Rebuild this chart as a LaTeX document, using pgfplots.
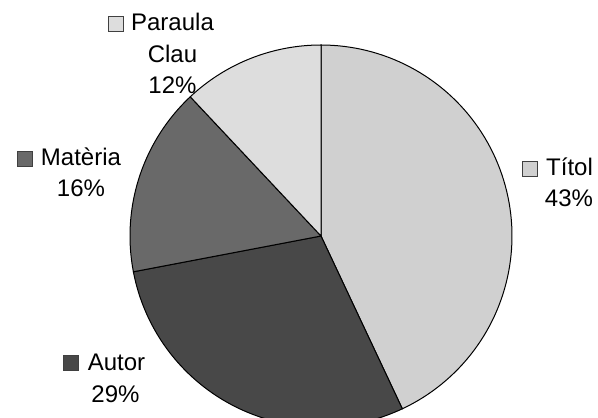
\documentclass[border=0pt]{standalone}
\usepackage{fontspec}
\setmainfont{Liberation Sans}
\usepackage{pgfplots}
\pgfplotsset{compat=1.18}

\definecolor{titol}{RGB}{208,208,208}
\definecolor{autor}{RGB}{72,72,72}
\definecolor{materia}{RGB}{105,105,105}
\definecolor{paraula}{RGB}{221,221,221}

% shares in percent, clockwise from 12 o'clock
\def\pTitol{43}
\def\pAutor{29}
\def\pMateria{16}
\def\pParaula{12}

\begin{document}
\begin{tikzpicture}
\useasboundingbox (0,0) rectangle (299pt,208.5pt);
\begin{axis}[
  at={(0,0)}, anchor=south west,
  width=299pt, height=208.5pt, scale only axis,
  xmin=0, xmax=598, ymin=0, ymax=417,
  hide axis, clip mode=individual,
  every axis plot/.append style={draw=black, line width=0.5pt, samples=90, no markers},
  font=\fontsize{12}{14}\selectfont,
]
\pgfmathsetmacro{\aA}{90}
\pgfmathsetmacro{\aB}{\aA-3.6*\pTitol}
\pgfmathsetmacro{\aC}{\aB-3.6*\pAutor}
\pgfmathsetmacro{\aD}{\aC-3.6*\pMateria}
\pgfmathsetmacro{\aE}{\aD-3.6*\pParaula}
\addplot[fill=titol, domain=\aA:\aB] ({321+191*cos(x)},{181+191*sin(x)}) -- (axis cs:321,181) -- cycle;
\addplot[fill=autor, domain=\aB:\aC] ({321+191*cos(x)},{181+191*sin(x)}) -- (axis cs:321,181) -- cycle;
\addplot[fill=materia, domain=\aC:\aD] ({321+191*cos(x)},{181+191*sin(x)}) -- (axis cs:321,181) -- cycle;
\addplot[fill=paraula, domain=\aD:\aE] ({321+191*cos(x)},{181+191*sin(x)}) -- (axis cs:321,181) -- cycle;

% labels with keys
\filldraw[fill=titol, draw=black!75, line width=0.4pt] (axis cs:522,241) rectangle (axis cs:537,256);
\node[anchor=base, inner sep=0pt] at (axis cs:569.5,241) {Títol};
\node[anchor=base, inner sep=0pt] at (axis cs:569,210) {43\%};

\filldraw[fill=paraula, draw=black!75, line width=0.4pt] (axis cs:108,386) rectangle (axis cs:123,401);
\node[anchor=base, inner sep=0pt] at (axis cs:172.5,386) {Paraula};
\node[anchor=base, inner sep=0pt] at (axis cs:172.5,354) {Clau};
\node[anchor=base, inner sep=0pt] at (axis cs:172.5,323) {12\%};

\filldraw[fill=materia, draw=black!75, line width=0.4pt] (axis cs:17,251) rectangle (axis cs:32,266);
\node[anchor=base, inner sep=0pt] at (axis cs:81,251) {Matèria};
\node[anchor=base, inner sep=0pt] at (axis cs:81,220) {16\%};

\filldraw[fill=autor, draw=black!75, line width=0.4pt] (axis cs:63,47) rectangle (axis cs:78,62);
\node[anchor=base, inner sep=0pt] at (axis cs:116.5,47) {Autor};
\node[anchor=base, inner sep=0pt] at (axis cs:115.5,15) {29\%};
\end{axis}
\end{tikzpicture}
\end{document}
